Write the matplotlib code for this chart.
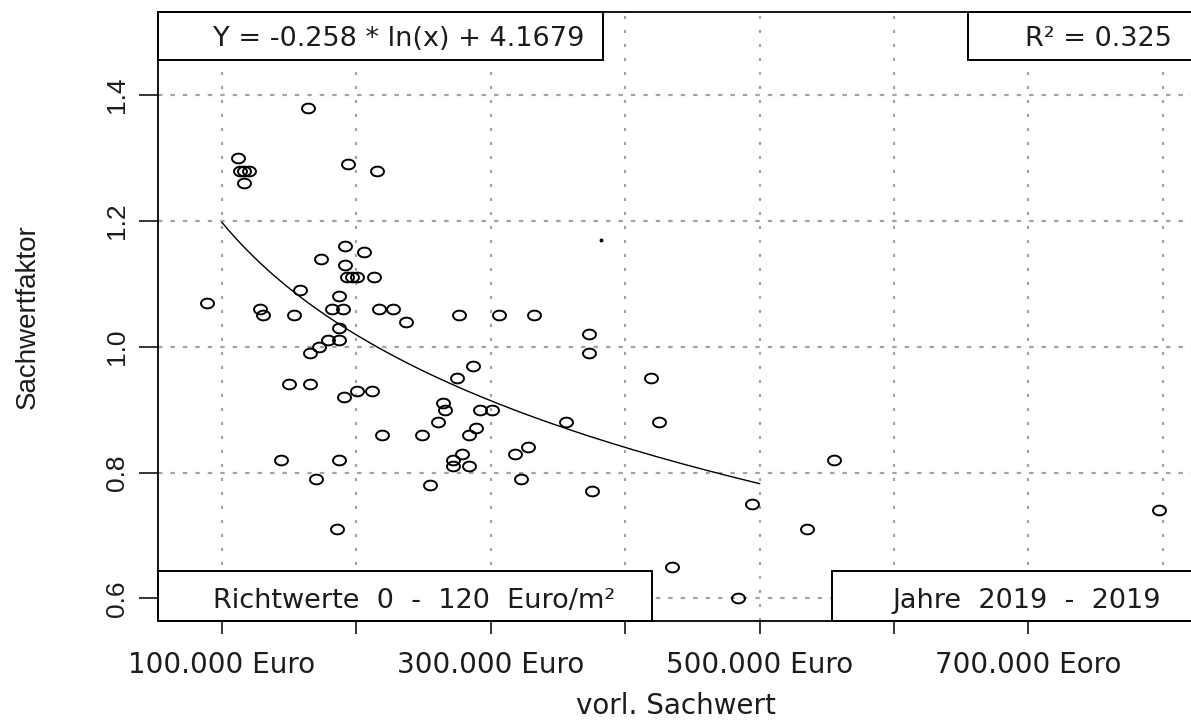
import matplotlib
matplotlib.use('Agg')
import matplotlib.pyplot as plt
import numpy as np
from matplotlib.patches import Rectangle
from matplotlib.path import Path

# ---------------- data ----------------
sachwert = [163800, 112100, 113400, 116600, 120100, 116600, 193500, 215100,
            191500, 205400, 173700, 191500, 192800, 196500, 200200, 213100,
            158000, 187300, 88600, 128300, 130300, 153600, 181600, 189800, 216800, 227500,
            236900, 187300, 187300, 179100, 172400, 165500,
            150100, 165500, 200200, 211400, 191000, 264700, 265900, 260500, 219300, 249000,
            143900, 187300, 169700, 254800, 185800,
            276600, 306100, 332100, 373300, 373300, 286500, 274600, 419200, 292000, 300700,
            355700, 425400, 284000, 289000, 327900, 318000, 278300, 272100, 272100, 284000,
            322200, 375500, 555600, 494100, 535500, 435000, 484200, 797400]
faktor = [1.38, 1.30, 1.28, 1.28, 1.28, 1.26, 1.29, 1.28,
          1.16, 1.15, 1.14, 1.13, 1.11, 1.11, 1.11, 1.11,
          1.09, 1.08, 1.07, 1.06, 1.05, 1.05, 1.06, 1.06, 1.06, 1.06,
          1.04, 1.03, 1.01, 1.01, 1.00, 0.99,
          0.94, 0.94, 0.93, 0.93, 0.92, 0.91, 0.90, 0.88, 0.86, 0.86,
          0.82, 0.82, 0.79, 0.78, 0.71,
          1.05, 1.05, 1.05, 1.02, 0.99, 0.97, 0.95, 0.95, 0.90, 0.90,
          0.88, 0.88, 0.86, 0.87, 0.84, 0.83, 0.83, 0.82, 0.81, 0.81,
          0.79, 0.77, 0.82, 0.75, 0.71, 0.65, 0.60, 0.74]
stray_x = [381800]
stray_y = [1.17]

fit_a = -0.258
fit_b = 4.1679
fit_from = 100000
fit_to = 500000

xticks = [100000, 200000, 300000, 400000, 500000, 600000, 700000]
xticklabels = ['100.000 Euro', '', '300.000 Euro', '', '500.000 Euro', '', '700.000 Eoro']
xgrid = [100000, 200000, 300000, 400000, 500000, 600000, 700000, 800000]
yticks = [0.6, 0.8, 1.0, 1.2, 1.4]
yticklabels = ['0.6', '0.8', '1.0', '1.2', '1.4']

eq_text = 'Y = -0.258 * ln(x) + 4.1679'
r2_text = 'R² = 0.325'
rw_text = 'Richtwerte  0  -  120  Euro/m²'
yr_text = 'Jahre  2019  -  2019'
xlabel = 'vorl. Sachwert'
ylabel = 'Sachwertfaktor'

# ---------------- figure ----------------
W, H = 1191, 721
fig = plt.figure(figsize=(W / 100, H / 100), dpi=100)
L, R, T, B = 158, 1198, 12, 621
ax = fig.add_axes([L / W, 1 - B / H, (R - L) / W, (B - T) / H])
ax.set_xlim(52400, 826200)
ax.set_ylim(0.564, 1.532)

textcol = '#1c1c1c'
gridcol = '#a4a4a4'
main_font = ['DejaVu Sans']
narrow_font = ['Liberation Sans Narrow', 'Liberation Sans', 'DejaVu Sans']

# grid
for gx in xgrid:
    ax.axvline(gx, color=gridcol, lw=1.6, linestyle=(0, (1.4, 4.9)), zorder=1)
for gy in yticks:
    ax.axhline(gy, color=gridcol, lw=1.6, linestyle=(0, (2.0, 3.6)), zorder=1)

# ellipse marker (image is horizontally stretched)
th = np.linspace(0, 2 * np.pi, 64)
ell = Path(np.column_stack([1.33 * np.cos(th), np.sin(th)]), closed=True)
ax.plot(sachwert, faktor, linestyle='none', marker=ell, markersize=9.3,
        markerfacecolor='none', markeredgecolor='black', markeredgewidth=1.4, zorder=3)
ax.plot(stray_x, stray_y, linestyle='none', marker='o', markersize=1.8,
        color='black', zorder=3)

# fitted curve from the stated coefficients
fx = np.geomspace(fit_from, fit_to, 40)
ax.plot(fx, fit_a * np.log(fx) + fit_b, color='black', lw=1.0, zorder=3)

# legend-like boxes
def box(x0, y0, x1, y1):
    ax.add_patch(Rectangle((x0, y0), x1 - x0, y1 - y0, transform=ax.transAxes,
                           facecolor='white', edgecolor='black', lw=1.4,
                           zorder=5, clip_on=False))

box(0.0, 0.921, 0.428, 1.0)
box(0.779, 0.921, 1.0, 1.0)
box(0.0, 0.0, 0.475, 0.0826)
box(0.648, 0.0, 1.0, 0.0826)

tkw = dict(transform=ax.transAxes, fontsize=19.5, color=textcol, family=main_font,
           va='baseline', ha='left', zorder=6)
ax.text(0.0529, 0.944, eq_text, **tkw)
ax.text(0.8337, 0.944, r2_text, **tkw)
ax.text(0.0529, 0.022, rw_text, **tkw)
ax.text(0.7058, 0.022, yr_text, **tkw)

# axes / ticks
for s in ax.spines.values():
    s.set_linewidth(1.3)
    s.set_color('black')
ax.set_xticks(xticks)
ax.set_xticklabels(xticklabels, fontsize=20, color=textcol, family=main_font)
ax.set_yticks(yticks)
ax.set_yticklabels(yticklabels, fontsize=19, color=textcol, family=narrow_font,
                   rotation=90, va='center')
ax.tick_params(axis='x', length=9.4, width=1.1, pad=12.5, color='black')
ax.tick_params(axis='y', length=14, width=1.1, pad=7, color='black')

ax.set_xlabel(xlabel, fontsize=20, color=textcol, family=main_font, va='center')
ax.xaxis.set_label_coords((676 - L) / (R - L), (B - 706) / (B - T))
ax.set_ylabel(ylabel, fontsize=20, color=textcol, family=narrow_font, va='center')
ax.yaxis.set_label_coords((28 - L) / (R - L), 0.5)

fig.savefig('out.png', dpi=100)
